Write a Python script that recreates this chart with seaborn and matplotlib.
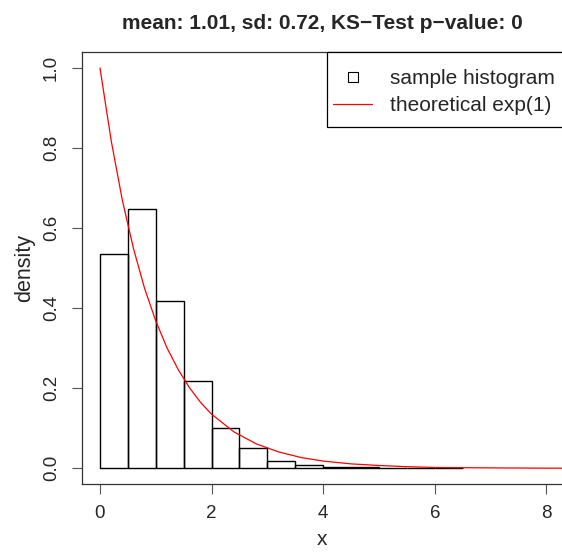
import numpy as np
import pandas as pd
import matplotlib
matplotlib.use("Agg")
import matplotlib.pyplot as plt
from matplotlib.lines import Line2D
from matplotlib.patches import Rectangle
import seaborn as sns

# histogram bins (width 0.5) and their densities
bin_edges = [0.0, 0.5, 1.0, 1.5, 2.0, 2.5, 3.0, 3.5, 4.0, 4.5, 5.0, 5.5, 6.0, 6.5]
bin_density = [0.535, 0.647, 0.417, 0.217, 0.101, 0.050, 0.0175, 0.0085,
               0.002, 0.002, 0.0007, 0.0004, 0.0003]

# theoretical exp(1) curve
curve_x = [0, 0.2, 0.4, 0.6, 0.8, 1.0, 1.2, 1.4, 1.6, 1.8, 2.0, 2.4, 2.8,
           3.2, 3.6, 4.0, 4.5, 5.0, 5.5, 6.0, 7.0, 8.0, 9.0]
curve_y = [1.0, 0.819, 0.670, 0.549, 0.449, 0.368, 0.301, 0.247, 0.202,
           0.165, 0.135, 0.091, 0.061, 0.041, 0.027, 0.018, 0.011, 0.007,
           0.004, 0.002, 0.001, 0.0003, 0.0001]

title = "mean: 1.01, sd: 0.72, KS\u2212Test p\u2212value: 0"

sns.set_style("ticks")
plt.rcParams["font.family"] = ["Liberation Sans", "DejaVu Sans"]

W, H = 562, 552
ax_left, ax_top, ax_bottom = 82.3, 51.7, 483.7
ax_w, ax_h = W - ax_left, ax_bottom - ax_top
fig = plt.figure(figsize=(W / 100, H / 100), dpi=100)
ax = fig.add_axes([ax_left / W, (H - ax_bottom) / H, ax_w / W, ax_h / H])

hist_df = pd.DataFrame({
    "mid": [(a + b) / 2 for a, b in zip(bin_edges[:-1], bin_edges[1:])],
    "density": bin_density,
})
sns.histplot(data=hist_df, x="mid", weights="density", bins=bin_edges,
             stat="count", fill=False, color="black", linewidth=1.0, ax=ax)

curve_df = pd.DataFrame({"x": curve_x, "y": curve_y})
sns.lineplot(data=curve_df, x="x", y="y", color="red", linewidth=0.9, ax=ax)

ax.set_xlim(-0.317, (W - 100) / 55.8)
ax.set_ylim(-0.0385, 1.0407)
ax.set_xticks([0, 2, 4, 6, 8])
ax.set_yticks([0.0, 0.2, 0.4, 0.6, 0.8, 1.0])
ax.set_yticklabels(["0.0", "0.2", "0.4", "0.6", "0.8", "1.0"], rotation=90, va="center")
ax.tick_params(labelsize=13.5, length=7, width=0.8, color="#555555", pad=8)
ax.tick_params(axis="y", pad=9)
for s in ["left", "top", "bottom"]:
    ax.spines[s].set_color("#333333")
    ax.spines[s].set_linewidth(0.9)
ax.spines["right"].set_visible(False)

ax.set_xlabel("x", fontsize=15, labelpad=6)
ax.set_ylabel("density", fontsize=15.5, labelpad=6)
ax.set_title(title, fontsize=15, fontweight="bold", pad=16.5)

# legend box like R's: frame drawn separately, reaching the right edge
box_x0 = (327 - ax_left) / ax_w
box_h = 75 / ax_h
ax.add_patch(Rectangle((box_x0, 1 - box_h), 1.05 - box_x0, box_h,
                       transform=ax.transAxes, facecolor="white",
                       edgecolor="black", linewidth=0.9, zorder=4.5,
                       clip_on=False))

handles = [
    Line2D([], [], linestyle="none", marker="s", markersize=7,
           markerfacecolor="white", markeredgecolor="black", markeredgewidth=0.8),
    Line2D([], [], color="red", linewidth=0.9),
]
leg = ax.legend(handles, ["sample histogram", "theoretical exp(1)"],
                loc="upper left",
                bbox_to_anchor=(box_x0, 1 - 11 / ax_h),
                borderaxespad=0, fontsize=15, frameon=False,
                handlelength=1.87, handletextpad=0.87,
                borderpad=0.3, labelspacing=0.38)
leg.set_zorder(5)

fig.savefig("out.png", dpi=100)
